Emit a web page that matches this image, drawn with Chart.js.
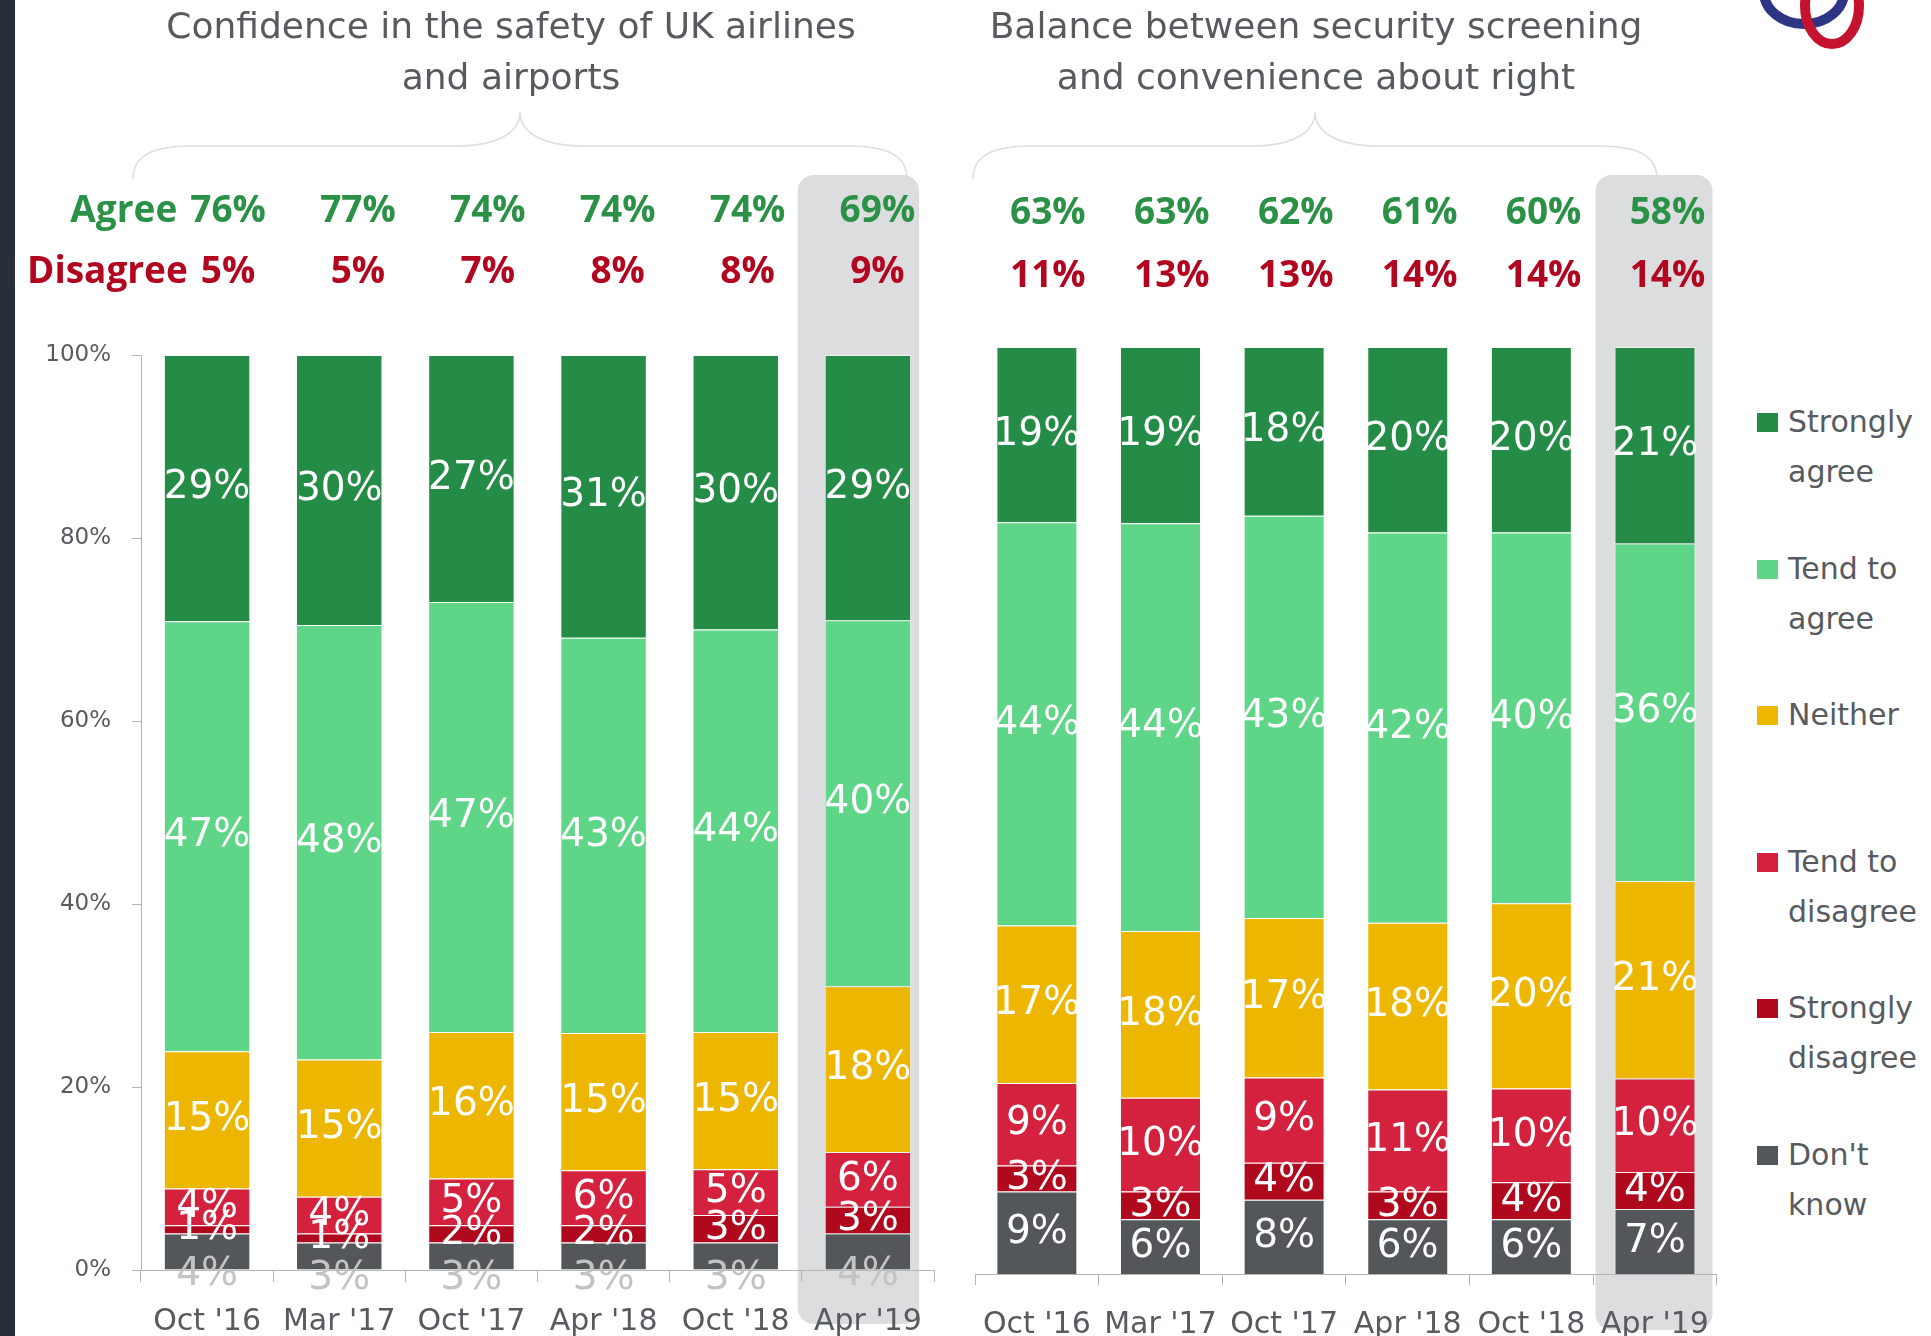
<!DOCTYPE html>
<html>
<head>
<meta charset="utf-8">
<title>Confidence in UK airlines and airports</title>
<script src="https://cdn.jsdelivr.net/npm/chart.js@4.4.1/dist/chart.umd.min.js"></script>
<style>
  body { margin: 0; width: 1931px; height: 1336px; position: relative; overflow: hidden; background: #fff; font-family: "DejaVu Sans", sans-serif; }
  #sidebar { position: absolute; left: 0; top: 0; width: 15px; height: 1336px; background: #272e3c; }
  #chartSafety { position: absolute; left: 0; top: 0; }
  #chartBalance { position: absolute; left: 960px; top: 0; }
  #logo { position: absolute; left: 1740px; top: 0; }
  .legend-item { position: absolute; left: 1757px; font-size: 30px; line-height: 50px; color: #575b5f; white-space: nowrap; }
  .legend-box { position: absolute; left: 0; top: 16px; width: 21px; height: 19px; }
  .legend-text { margin-left: 31px; }
</style>
</head>
<body>
<canvas id="chartSafety" width="960" height="1336"></canvas>
<canvas id="chartBalance" width="790" height="1336"></canvas>
<div id="sidebar"></div>
<svg id="logo" width="160" height="60">
  <ellipse cx="64" cy="-8" rx="40" ry="32" fill="none" stroke="#2f3585" stroke-width="10"/>
  <ellipse cx="92" cy="6" rx="27" ry="38" fill="none" stroke="#c4122f" stroke-width="10"/>
</svg>
<div id="legend"></div>

<script>
// categories and series (bottom of stack first)
var categories = ["Oct '16", "Mar '17", "Oct '17", "Apr '18", "Oct '18", "Apr '19"];
var seriesNames = ["Don't know", 'Strongly disagree', 'Tend to disagree', 'Neither', 'Tend to agree', 'Strongly agree'];
var seriesColors = ['#53575a', '#b0091e', '#d4213d', '#edb600', '#5fd588', '#248c46'];
var legendLines = [["Don't", 'know'], ['Strongly', 'disagree'], ['Tend to', 'disagree'], ['Neither'], ['Tend to', 'agree'], ['Strongly', 'agree']];

// Confidence in the safety of UK airlines and airports
var safetyDontKnow = [4, 3, 3, 3, 3, 4];
var safetyStronglyDisagree = [0.9, 1, 1.9, 1.9, 3, 2.9];
var safetyTendDisagree = [4, 4, 5.1, 6, 5, 6];
var safetyNeither = [15, 15, 16, 15, 15, 18.1];
var safetyTendAgree = [47, 47.5, 47, 43.2, 44, 40];
var safetyStronglyAgree = [29.1, 29.5, 27, 30.9, 30, 29];
var safetyAgree = [76, 77, 74, 74, 74, 69];
var safetyDisagree = [5, 5, 7, 8, 8, 9];

// Balance between security screening and convenience about right
var balanceDontKnow = [8.9, 5.9, 8, 5.9, 5.9, 7];
var balanceStronglyDisagree = [2.8, 3, 4, 3, 4, 4];
var balanceTendDisagree = [8.9, 10.1, 9.2, 11, 10.1, 10.1];
var balanceNeither = [17, 18, 17.2, 18, 20, 21.3];
var balanceTendAgree = [43.5, 44, 43.4, 42.1, 40, 36.4];
var balanceStronglyAgree = [18.9, 19, 18.2, 20, 20, 21.2];
var balanceAgree = [63, 63, 62, 61, 60, 58];
var balanceDisagree = [11, 13, 13, 14, 14, 14];

var textGray = '#575b5f';
var axisGray = '#b4b4b4';

Chart.defaults.font.family = '"DejaVu Sans", sans-serif';

function roundedRect(ctx, x, y, w, h, r) {
    ctx.beginPath();
    ctx.moveTo(x + r, y);
    ctx.arcTo(x + w, y, x + w, y + h, r);
    ctx.arcTo(x + w, y + h, x, y + h, r);
    ctx.arcTo(x, y + h, x, y, r);
    ctx.arcTo(x, y, x + w, y, r);
    ctx.closePath();
}

function drawBrace(ctx, cx, half, tipY, barY, endY) {
    var l = cx - half, r = cx + half;
    ctx.beginPath();
    ctx.moveTo(l, endY);
    ctx.bezierCurveTo(l, barY + 10, l + 18, barY, l + 60, barY);
    ctx.lineTo(cx - 63, barY);
    ctx.bezierCurveTo(cx - 22, barY, cx, barY - 14, cx, tipY);
    ctx.bezierCurveTo(cx, barY - 14, cx + 22, barY, cx + 63, barY);
    ctx.lineTo(r - 60, barY);
    ctx.bezierCurveTo(r - 18, barY, r, barY + 10, r, endY);
    ctx.stroke();
}

// highlight box, brace, title and agree / disagree rows
var panelDecor = {
    id: 'panelDecor',
    beforeDraw: function (chart, args, o) {
        var ctx = chart.ctx;
        var bars = chart.getDatasetMeta(0).data;
        var last = bars[bars.length - 1];
        var half = last.width / 2;
        ctx.save();
        ctx.fillStyle = '#dcdddf';
        roundedRect(ctx, last.x - half - o.boxPad[0], o.boxTop,
            half * 2 + o.boxPad[0] + o.boxPad[1], o.boxBottom - o.boxTop, 16);
        ctx.fill();

        ctx.strokeStyle = '#dedede';
        ctx.lineWidth = 1.6;
        drawBrace(ctx, o.braceX, o.braceHalf, 112, 146, 179);

        ctx.fillStyle = textGray;
        ctx.font = '36px "DejaVu Sans"';
        ctx.textAlign = 'center';
        ctx.textBaseline = 'middle';
        o.title.forEach(function (line, i) {
            ctx.fillText(line, o.titleX, 29 + i * 51);
        });

        ctx.font = 'bold 37px "Open Sans"';
        ctx.textBaseline = 'alphabetic';
        var rows = [
            { values: o.agree, prefix: o.agreeLabel, color: '#2a9146', y: o.rowY[0] },
            { values: o.disagree, prefix: o.disagreeLabel, color: '#b20620', y: o.rowY[1] }
        ];
        rows.forEach(function (row) {
            ctx.fillStyle = row.color;
            row.values.forEach(function (v, j) {
                var cx = bars[j].x + o.rowShift[0] + o.rowShift[1] * j;
                var txt = v + '%';
                ctx.textAlign = 'center';
                ctx.fillText(txt, cx, row.y);
                if (j === 0 && row.prefix) {
                    ctx.textAlign = 'right';
                    ctx.fillText(row.prefix, cx - ctx.measureText(txt).width / 2 - 13, row.y);
                }
            });
        });
        ctx.restore();
    }
};

// values written inside the segments
var segmentLabels = {
    id: 'segmentLabels',
    afterDatasetsDraw: function (chart, args, o) {
        var ctx = chart.ctx;
        ctx.save();
        ctx.font = '39px "DejaVu Sans"';
        ctx.textAlign = 'center';
        ctx.textBaseline = 'middle';
        chart.data.datasets.forEach(function (ds, i) {
            chart.getDatasetMeta(i).data.forEach(function (bar, j) {
                var y = (bar.y + bar.base) / 2;
                ctx.fillStyle = '#ffffff';
                if (o.mutedIndex === i) {
                    ctx.fillStyle = '#c3c3c3';
                    y += 23;
                }
                ctx.fillText(Math.round(ds.data[j]) + '%', bar.x, y);
            });
        });
        ctx.restore();
    }
};

function renderStackedChart(canvasId, series, opts) {
    var datasets = series.map(function (values, i) {
        return {
            label: seriesNames[i],
            data: values,
            backgroundColor: seriesColors[i],
            borderColor: 'rgba(255,255,255,0.55)',
            borderWidth: 1,
            barPercentage: opts.barPercentage,
            categoryPercentage: 1
        };
    });

    return new Chart(document.getElementById(canvasId), {
        type: 'bar',
        data: { labels: categories, datasets: datasets },
        options: {
            responsive: false,
            animation: false,
            layout: { padding: opts.padding },
            plugins: {
                legend: { display: false },
                tooltip: { enabled: false },
                segmentLabels: { mutedIndex: opts.mutedIndex },
                panelDecor: opts.decor
            },
            scales: {
                x: {
                    stacked: true,
                    grid: { offset: true, drawOnChartArea: false, tickLength: opts.xTick, color: axisGray },
                    border: { color: axisGray },
                    ticks: { font: { size: 30 }, color: textGray, padding: 22, maxRotation: 0, autoSkip: false },
                    afterFit: function (axis) { axis.height = opts.xHeight; }
                },
                y: {
                    stacked: true,
                    display: opts.showY,
                    min: 0,
                    max: 100,
                    ticks: {
                        stepSize: 20,
                        font: { size: 23 },
                        color: textGray,
                        padding: 21,
                        callback: function (v) { return v + '%'; }
                    },
                    grid: { drawOnChartArea: false, tickLength: 9, color: axisGray },
                    border: { color: axisGray },
                    afterFit: function (axis) { axis.width = opts.showY ? 141 : 0; }
                }
            }
        },
        plugins: [panelDecor, segmentLabels]
    });
}

function renderLegend() {
    var holder = document.getElementById('legend');
    for (var k = 0; k < seriesNames.length; k++) {
        var i = seriesNames.length - 1 - k;
        var item = document.createElement('div');
        item.className = 'legend-item';
        item.style.top = (397 + k * 146.6) + 'px';
        var box = document.createElement('div');
        box.className = 'legend-box';
        box.style.background = seriesColors[i];
        var text = document.createElement('div');
        text.className = 'legend-text';
        text.innerHTML = legendLines[i].join('<br>');
        item.appendChild(box);
        item.appendChild(text);
        holder.appendChild(item);
    }
}

renderStackedChart('chartSafety',
    [safetyDontKnow, safetyStronglyDisagree, safetyTendDisagree, safetyNeither, safetyTendAgree, safetyStronglyAgree],
    {
        padding: { top: 355, left: 0, right: 26, bottom: 0 },
        barPercentage: 0.654,
        xTick: 12,
        xHeight: 66,
        showY: true,
        mutedIndex: 0,
        decor: {
            title: ['Confidence in the safety of UK airlines', 'and airports'],
            titleX: 511,
            braceX: 520,
            braceHalf: 387,
            boxPad: [27, 8],
            boxTop: 175,
            boxBottom: 1324,
            agree: safetyAgree,
            disagree: safetyDisagree,
            agreeLabel: 'Agree',
            disagreeLabel: 'Disagree',
            rowY: [222, 283],
            rowShift: [21, -2.3]
        }
    });

renderStackedChart('chartBalance',
    [balanceDontKnow, balanceStronglyDisagree, balanceTendDisagree, balanceNeither, balanceTendAgree, balanceStronglyAgree],
    {
        padding: { top: 347, left: 11.6, right: 33.2, bottom: 0 },
        barPercentage: 0.655,
        xTick: 11,
        xHeight: 62,
        showY: false,
        mutedIndex: -1,
        decor: {
            title: ['Balance between security screening', 'and convenience about right'],
            titleX: 356,
            braceX: 355,
            braceHalf: 342,
            boxPad: [19, 17],
            boxTop: 175,
            boxBottom: 1330,
            agree: balanceAgree,
            disagree: balanceDisagree,
            agreeLabel: '',
            disagreeLabel: '',
            rowY: [224, 287],
            rowShift: [11, 0.3]
        }
    });

renderLegend();
</script>
</body>
</html>
